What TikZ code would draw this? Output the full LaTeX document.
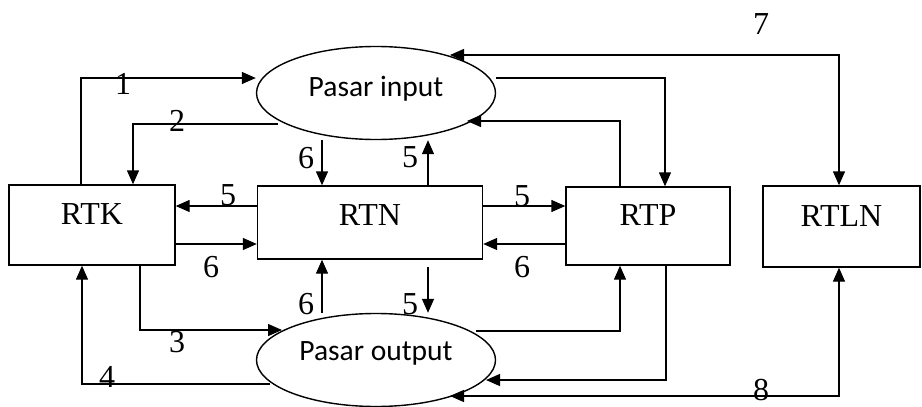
\documentclass[tikz,border=0pt]{standalone}
\usepackage{fontspec}
\setmainfont{Liberation Serif}
\newfontfamily\calibri{Carlito}
\usetikzlibrary{arrows.meta, calc, shapes.geometric}

\begin{document}
\begin{tikzpicture}[x=1pt, y=-1pt, line width=1.4pt,
    box/.style={draw, inner sep=0pt, text height=21pt, font=\fontsize{32}{38}\selectfont},
    oval/.style={draw, ellipse, inner sep=0pt, minimum width=239pt, minimum height=93pt,
        text height=19pt, font=\calibri\fontsize{29.5}{34}\selectfont},
    arr/.style={-{Triangle[length=14pt,width=12pt]}},
    arrs/.style={{Triangle[length=14pt,width=12pt]}-{Triangle[length=14pt,width=12pt]}},
    num/.style={inner sep=0pt, font=\fontsize{32}{38}\selectfont}]
        \useasboundingbox (0,0) rectangle (922,407);

        \node[box, minimum width=166pt, minimum height=80pt, text depth=22pt] (rtk) at (92,225) {RTK};
        \node[box, minimum width=225pt, minimum height=73pt, text depth=15pt] (rtn) at (370,222.5) {RTN};
        \node[box, minimum width=164pt, minimum height=78pt, text depth=22pt] (rtp) at (648,226) {RTP};
        \node[box, minimum width=157pt, minimum height=81pt, text depth=21pt] (rtln) at (841.5,226.5) {RTLN};
        \node[oval, text depth=12pt] (pin) at (376,93) {Pasar input};
        \node[oval, text depth=19pt] (pout) at (376,360) {Pasar output};

        \draw[arr] (rtk.north -| 81,0) |- (pin.west |- 0,78);
        \draw[arr] ($(pin.center)+(-98,31)$) -| (rtk.north -| 133,0);
        \draw[arr] (rtn.west |- 0,206) -- (rtk.east |- 0,206);
        \draw[arr] (rtk.east |- 0,244) -- (rtn.west |- 0,244);
        \draw[arr] (rtn.east |- 0,206) -- (rtp.west |- 0,206);
        \draw[arr] (rtp.west |- 0,244) -- (rtn.east |- 0,244);
        \draw[arr] (pin.south -| 322,0) -- (rtn.north -| 322,0);
        \draw[arr] (rtn.north -| 428,0) -- (pin.south -| 428,0);
        \draw[arr] (pin.east |- 0,78) -| (rtp.north -| 665,0);
        \draw[arr] (rtp.north -| 620,0) |- ($(pin.center)+(91,28)$);
        \draw[arrs] ($(pin.center)+(74,-38)$) -| (rtln.north -| 839,0);

        \draw[arr] (rtk.south -| 140,0) |- ($(pout.center)+(-94,-30)$);
        \draw[arr] ($(pout.center)+(-106,24)$) -| (rtk.south -| 82,0);
        \draw[arr] (pout.north -| 322,0) -- (rtn.south -| 322,0);
        \draw[arr] ([yshift=-7pt]rtn.south -| 428,0) -- (pout.north -| 428,0);
        \draw[arr] ($(pout.center)+(100,-29)$) -| (rtp.south -| 620,0);
        \draw[arr] (rtp.south -| 666,0) |- ($(pout.center)+(110,20)$);
        \draw[arrs] ($(pout.center)+(74,36)$) -| (rtln.south -| 839,0);

        \node[num] (n1) at (123,84) {1};
        \node[num] (n2) at (177,121) {2};
        \node[num] (n6a) at (306,158) {6};
        \node[num] (n5a) at (410,157) {5};
        \node[num] (n5b) at (228,195) {5};
        \node[num] (n5c) at (522,196) {5};
        \node[num] (n6b) at (211,267) {6};
        \node[num] (n6c) at (522,267) {6};
        \node[num] (n6d) at (306,304) {6};
        \node[num] (n5d) at (410,304) {5};
        \node[num] (n3) at (177,342) {3};
        \node[num] (n4) at (107,377) {4};
        \node[num] (n7) at (761,24) {7};
        \node[num] (n8) at (761,390) {8};
\end{tikzpicture}
\end{document}
